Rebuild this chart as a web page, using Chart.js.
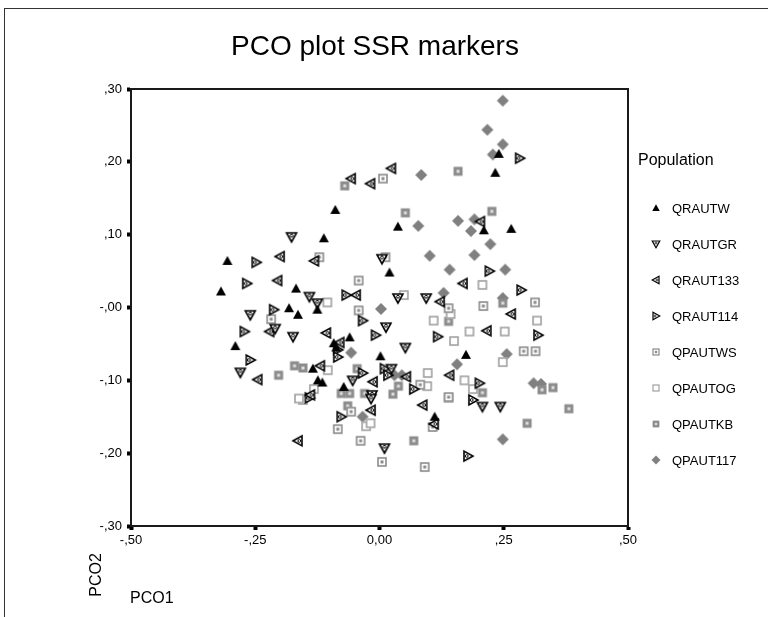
<!DOCTYPE html>
<html><head><meta charset="utf-8">
<script src="https://cdn.jsdelivr.net/npm/chart.js@4/dist/chart.umd.min.js"></script>
<style>
html,body{margin:0;padding:0;background:#fff;}
#wrap{position:relative;width:768px;height:617px;overflow:hidden;background:#fff}
#frame{position:absolute;left:4px;top:8px;width:800px;height:700px;border:1px solid #333;box-sizing:border-box;pointer-events:none}
canvas{position:absolute;left:0;top:0}
</style></head><body>
<div id="wrap"><canvas id="c" width="768" height="617"></canvas><div id="frame"></div></div>
<script>
const chartTitle = 'PCO plot SSR markers';
const xAxisTitle = 'PCO1';
const yAxisTitle = 'PCO2';
const legendTitle = 'Population';
const populations = ['QRAUTW','QRAUTGR','QRAUT133','QRAUT114','QPAUTWS','QPAUTOG','QPAUTKB','QPAUT117'];
const xTickValues = [-0.5,-0.25,0,0.25,0.5];
const xTickLabels = ['-,50','-,25','0,00',',25',',50'];
const yTickValues = [0.3,0.2,0.1,0,-0.1,-0.2,-0.3];
const yTickLabels = [',30',',20',',10','-,00','-,10','-,20','-,30'];

const QRAUTW = [[-0.089,0.134],[0.037,0.111],[-0.112,0.095],[0.240,0.211],[0.233,0.185],[0.210,0.106],[0.265,0.108],[-0.306,0.064],[-0.168,0.026],[-0.319,0.022],[-0.182,-0.001],[-0.164,-0.010],[-0.290,-0.053],[0.020,0.048],[-0.125,-0.003],[-0.060,-0.041],[-0.092,-0.049],[-0.087,-0.055],[0.002,-0.067],[-0.134,-0.084],[-0.124,-0.100],[-0.115,-0.103],[-0.072,-0.109],[0.111,-0.150],[0.174,-0.065]];
const QRAUTGR = [[-0.177,0.097],[0.005,0.067],[-0.260,-0.010],[-0.210,-0.029],[-0.174,-0.040],[-0.280,-0.089],[-0.141,0.015],[-0.125,0.006],[0.037,0.013],[0.094,0.013],[0.013,-0.027],[0.052,-0.055],[0.024,-0.084],[-0.054,-0.100],[-0.015,-0.120],[-0.017,-0.125],[0.010,-0.193],[0.207,-0.136],[0.243,-0.136]];
const QRAUT133 = [[-0.057,0.177],[-0.018,0.170],[0.024,0.191],[0.203,0.118],[-0.200,0.070],[-0.205,0.037],[-0.221,-0.033],[-0.245,-0.099],[-0.131,0.064],[0.168,0.033],[-0.047,0.017],[0.122,0.008],[-0.107,-0.035],[-0.119,-0.080],[-0.139,-0.120],[-0.013,-0.102],[0.054,-0.095],[0.141,-0.093],[-0.017,-0.141],[-0.164,-0.183],[0.087,-0.134],[0.110,-0.160],[0.265,-0.009],[0.216,-0.032],[-0.080,-0.048]];
const QRAUT114 = [[0.282,0.205],[-0.248,0.062],[-0.267,0.033],[-0.213,-0.003],[-0.272,-0.033],[-0.260,-0.072],[-0.067,0.017],[-0.034,-0.018],[-0.008,-0.038],[0.117,-0.040],[-0.084,-0.058],[-0.084,-0.068],[0.010,-0.084],[0.017,-0.093],[0.069,-0.112],[0.221,0.050],[0.285,0.024],[0.319,-0.038],[0.201,-0.104],[-0.141,-0.124],[-0.077,-0.150],[0.188,-0.127],[0.178,-0.204],[-0.034,-0.090]];
const QPAUTWS = [[0.007,0.177],[-0.218,-0.016],[-0.121,0.069],[0.012,0.069],[-0.042,0.037],[-0.042,-0.004],[0.139,-0.001],[0.209,0.002],[0.313,0.007],[0.082,-0.106],[0.139,-0.123],[0.290,-0.060],[0.314,-0.060],[-0.057,-0.143],[-0.084,-0.167],[-0.038,-0.183],[0.005,-0.212],[0.091,-0.219],[0.107,-0.164]];
const QPAUTOG = [[-0.105,0.007],[0.049,0.017],[0.143,-0.009],[0.109,-0.018],[0.150,-0.046],[-0.104,-0.086],[-0.132,-0.112],[0.096,-0.108],[0.097,-0.090],[0.207,0.031],[0.317,-0.018],[0.181,-0.033],[0.252,-0.033],[0.248,-0.075],[0.171,-0.100],[0.188,-0.112],[-0.154,-0.127],[-0.027,-0.163],[-0.018,-0.159],[0.139,-0.124],[-0.162,-0.125]];
const QPAUTKB = [[-0.070,0.167],[0.158,0.187],[0.052,0.130],[0.226,0.132],[-0.171,-0.080],[-0.203,-0.093],[0.139,-0.019],[-0.154,-0.083],[-0.045,-0.084],[-0.077,-0.118],[-0.060,-0.118],[-0.030,-0.118],[0.038,-0.108],[0.027,-0.119],[0.248,0.006],[0.207,-0.117],[0.327,-0.113],[0.349,-0.110],[-0.064,-0.135],[0.069,-0.183],[0.381,-0.139],[0.297,-0.159]];
const QPAUT117 = [[0.084,0.182],[0.078,0.112],[0.158,0.119],[0.248,0.284],[0.217,0.244],[0.248,0.224],[0.228,0.210],[0.191,0.121],[0.184,0.105],[0.223,0.087],[0.101,0.071],[0.141,0.052],[0.129,0.020],[0.003,-0.002],[0.156,-0.078],[-0.057,-0.062],[0.030,-0.093],[0.045,-0.093],[0.191,0.072],[0.253,0.052],[0.248,0.013],[0.256,-0.064],[0.310,-0.104],[0.325,-0.105],[-0.034,-0.150],[0.248,-0.181]];

const seriesValues = [QRAUTW,QRAUTGR,QRAUT133,QRAUT114,QPAUTWS,QPAUTOG,QPAUTKB,QPAUT117];
const markerKinds = ['triUp','triDown','triLeft','triRight','sqDot','sqOpen','sqFill','diamond'];

function makeMarker(kind, scale){
  const s = 16, c = document.createElement('canvas');
  c.width = s; c.height = s;
  const g = c.getContext('2d');
  const m = s/2;
  g.save(); g.translate(m,m); g.scale(scale,scale);
  g.lineJoin='miter';
  const tri = (rot)=>{
    g.save(); g.rotate(rot);
    g.beginPath(); g.moveTo(0,-5); g.lineTo(5,4); g.lineTo(-5,4); g.closePath();
    g.restore();
  };
  if(kind==='triUp'){ tri(0); g.fillStyle='#000'; g.fill(); }
  else if(kind==='triDown'||kind==='triLeft'||kind==='triRight'){
    const r = kind==='triDown'?Math.PI:(kind==='triLeft'?-Math.PI/2:Math.PI/2);
    tri(r); g.fillStyle='#fff'; g.fill(); g.strokeStyle='#000'; g.lineWidth=1.6; g.stroke();
    g.save(); g.rotate(r); g.beginPath(); g.arc(0,1.3,1.4,0,Math.PI*2); g.lineWidth=1; g.stroke(); g.restore();
  }
  else if(kind==='sqDot'){
    g.fillStyle='#fff'; g.fillRect(-4.5,-4.5,9,9);
    g.strokeStyle='#8a8a8a'; g.lineWidth=1.6; g.strokeRect(-4,-4,8,8);
    g.fillStyle='#8a8a8a'; g.fillRect(-1.5,-1.5,3,3);
  }
  else if(kind==='sqOpen'){
    g.fillStyle='#fff'; g.fillRect(-4.5,-4.5,9,9);
    g.strokeStyle='#a0a0a0'; g.lineWidth=1.6; g.strokeRect(-4,-4,8,8);
  }
  else if(kind==='sqFill'){
    g.fillStyle='#8c8c8c'; g.fillRect(-4.5,-4.5,9,9);
    g.fillStyle='#e0e0e0'; g.fillRect(-1.5,-1.5,3,3);
  }
  else if(kind==='diamond'){
    g.beginPath(); g.moveTo(0,-6); g.lineTo(6,0); g.lineTo(0,6); g.lineTo(-6,0); g.closePath();
    g.fillStyle='#808080'; g.fill();
  }
  g.restore();
  return c;
}

const datasets = populations.map((name,i)=>({
  label: name,
  data: seriesValues[i].map(p=>({x:p[0], y:p[1]})),
  pointStyle: makeMarker(markerKinds[i],1),
  legendMarker: makeMarker(markerKinds[i],0.75),
  pointRadius: 5,
  showLine: false
}));

const FONT = '"Liberation Sans", Arial, sans-serif';

const decorPlugin = {
  id: 'decor',
  afterDraw(chart){
    const ctx = chart.ctx, a = chart.chartArea;
    ctx.save();
    ctx.strokeStyle = '#1a1a1a'; ctx.lineWidth = 2;
    ctx.strokeRect(a.left, a.top, a.right-a.left, a.bottom-a.top);
    ctx.fillStyle = '#000';
    ctx.font = '28px ' + FONT;
    ctx.textAlign = 'center'; ctx.textBaseline = 'middle';
    ctx.fillText(chartTitle, 375, 47);
    ctx.font = '16px ' + FONT;
    ctx.textAlign = 'left';
    ctx.fillText(xAxisTitle, 130, 599);
    ctx.save(); ctx.translate(97, 575); ctx.rotate(-Math.PI/2);
    ctx.textAlign = 'center'; ctx.fillText(yAxisTitle, 0, 0); ctx.restore();
    ctx.font = '16px ' + FONT; ctx.textAlign = 'left';
    ctx.fillText(legendTitle, 638, 161);
    ctx.font = '13px ' + FONT;
    chart.data.datasets.forEach((ds,i)=>{
      const y = 208 + i*36;
      const mk = ds.legendMarker;
      ctx.drawImage(mk, 656 - mk.width/2, y - mk.height/2);
      ctx.fillText(ds.label, 672, y+1);
    });
    ctx.restore();
  }
};

new Chart(document.getElementById('c'), {
  type: 'scatter',
  data: { datasets },
  options: {
    responsive: false, animation: false, devicePixelRatio: 1,
    layout: { padding: { left: 0, right: 140, top: 89, bottom: 0 } },
    plugins: { legend: { display: false }, title: { display: false }, tooltip: { enabled: false } },
    scales: {
      x: {
        type: 'linear', min: -0.5, max: 0.5,
        afterFit(s){ s.height = 91; },
        afterBuildTicks(s){ s.ticks = xTickValues.map(v=>({value:v})); },
        ticks: { color: '#000', font: { family: FONT, size: 13 }, padding: 3, maxRotation: 0,
          callback(v){ const i = xTickValues.findIndex(t=>Math.abs(t-v)<1e-9); return i>=0?xTickLabels[i]:''; } },
        grid: { drawOnChartArea: false, drawTicks: true, tickLength: 4, tickWidth: 4, tickColor: '#000', color: '#000' },
        border: { display: true, color: '#1a1a1a', width: 2 }
      },
      y: {
        type: 'linear', min: -0.3, max: 0.3,
        afterFit(s){ s.width = 131; },
        afterBuildTicks(s){ s.ticks = yTickValues.map(v=>({value:v})); },
        ticks: { color: '#000', font: { family: FONT, size: 13 }, padding: 5,
          callback(v){ const i = yTickValues.findIndex(t=>Math.abs(t-v)<1e-9); return i>=0?yTickLabels[i]:''; } },
        grid: { drawOnChartArea: false, drawTicks: true, tickLength: 4, tickWidth: 4, tickColor: '#000', color: '#000' },
        border: { display: true, color: '#1a1a1a', width: 2 }
      }
    }
  },
  plugins: [decorPlugin]
});
</script>
</body></html>
